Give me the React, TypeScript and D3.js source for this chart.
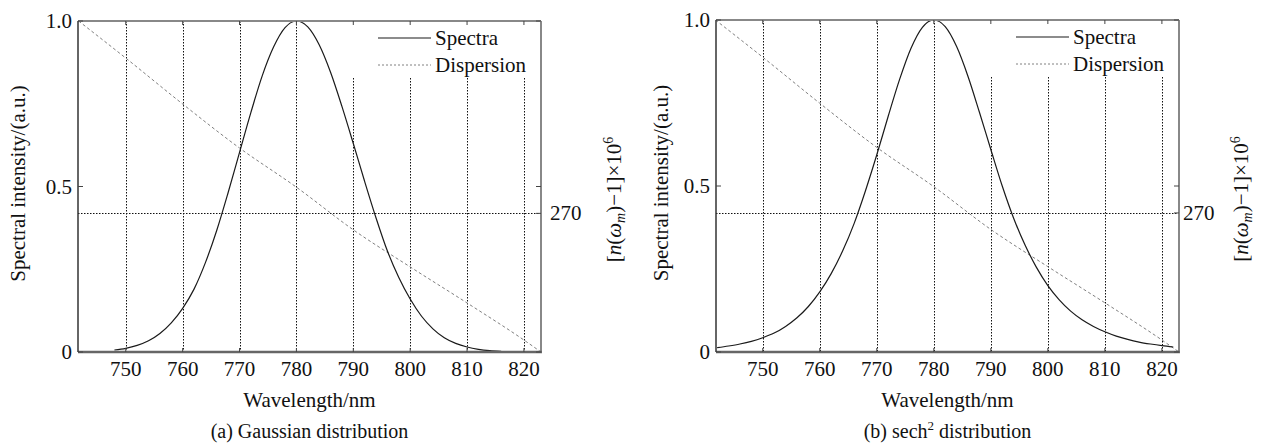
import React from 'react';
import * as d3 from 'd3';

// tick values shared by both panels
const xTicks = [750, 760, 770, 780, 790, 800, 810, 820];
const yTicks = [0, 0.5, 1.0];
const yTickLabels = ['0', '0.5', '1.0'];
const rightTicks = [270];

// (a) Gaussian spectrum
const gaussWavelength = [
  748, 750, 752, 754, 756, 758, 760, 762, 764, 766, 768, 770, 772, 774, 776, 778, 780,
  782, 784, 786, 788, 790, 792, 794, 796, 798, 800, 802, 804, 806, 808, 810, 812, 814, 816,
];
const gaussSpectra = [
  0.006, 0.011, 0.02, 0.034, 0.056, 0.088, 0.132, 0.19, 0.27, 0.368, 0.482, 0.603, 0.724,
  0.835, 0.922, 0.98, 1.0, 0.982, 0.928, 0.845, 0.742, 0.63, 0.515, 0.405, 0.305, 0.225,
  0.16, 0.108, 0.07, 0.043, 0.026, 0.015, 0.008, 0.004, 0.002,
];

// (b) sech^2 spectrum
const sechWavelength = [
  742, 744, 746, 748, 750, 752, 754, 756, 758, 760, 762, 764, 766, 768, 770, 772, 774, 776,
  778, 780, 782, 784, 786, 788, 790, 792, 794, 796, 798, 800, 802, 804, 806, 808, 810, 812,
  814, 816, 818, 820, 822,
];
const sechSpectra = [
  0.013, 0.018, 0.024, 0.032, 0.043, 0.057, 0.077, 0.103, 0.137, 0.181, 0.236, 0.304, 0.386,
  0.485, 0.594, 0.71, 0.821, 0.915, 0.978, 1.0, 0.98, 0.92, 0.83, 0.722, 0.61, 0.5, 0.403,
  0.322, 0.255, 0.2, 0.157, 0.123, 0.097, 0.077, 0.061, 0.048, 0.038, 0.03, 0.024, 0.019,
  0.015,
];

// dispersion [n(w_m)-1]x10^6, right axis
const dispWavelength = [741.7, 750, 760, 770, 780, 790, 800, 810, 820, 823];
const dispersion = [281.1, 278.96, 276.31, 273.77, 271.51, 269.05, 266.91, 264.83, 262.69, 262.0];

const FONT = 'Liberation Serif';

interface PanelProps {
  id: string;
  box: { l: number; t: number; r: number; b: number };
  xDomain: [number, number];
  wavelength: number[];
  spectra: number[];
  caption: React.ReactNode;
  yLabelX: number;
  rightLabelX: number;
  rightTickDx: number;
}

const Panel: React.FC<PanelProps> = ({
  id, box, xDomain, wavelength, spectra, caption, yLabelX, rightLabelX, rightTickDx,
}) => {
  const { l, t, r, b } = box;
  const x = d3.scaleLinear().domain(xDomain).range([l, r]);
  const y = d3.scaleLinear().domain([0, 1]).range([b, t]);
  const yR = d3.scaleLinear().domain([262, 281.1]).range([b, t]);

  const spectraLine = d3
    .line<number>()
    .x((_, i) => x(wavelength[i]))
    .y((d) => y(d))
    .curve(d3.curveMonotoneX);

  const dispLine = d3
    .line<number>()
    .x((_, i) => x(dispWavelength[i]))
    .y((d) => yR(d))
    .curve(d3.curveMonotoneX);

  const legend = { x: r - 195, y: t, w: 195, h: 57 };
  const cx = (l + r) / 2;

  return (
    <g>
      <defs>
        <clipPath id={`clip-${id}`}>
          <rect x={l} y={t} width={r - l} height={b - t} />
        </clipPath>
      </defs>

      {/* grid */}
      {xTicks.map((v) => (
        <line key={v} x1={Math.round(x(v)) + 0.5} x2={Math.round(x(v)) + 0.5} y1={t} y2={b}
          stroke="#111" strokeWidth={1} strokeDasharray="1.5,1.5" />
      ))}
      {rightTicks.map((v) => (
        <line key={v} x1={l} x2={r} y1={Math.round(yR(v)) + 0.5} y2={Math.round(yR(v)) + 0.5}
          stroke="#111" strokeWidth={1} strokeDasharray="1.5,1.5" />
      ))}

      <g clipPath={`url(#clip-${id})`}>
        <path d={dispLine(dispersion) ?? ''} fill="none" stroke="#808080" strokeWidth={1}
          strokeDasharray="3,2.5" />
        <path d={spectraLine(spectra) ?? ''} fill="none" stroke="#1a1a1a" strokeWidth={1.2} />
      </g>

      {/* legend */}
      <rect x={legend.x} y={legend.y} width={legend.w} height={legend.h} fill="#fff" />
      <line x1={r - 163} x2={r - 110} y1={t + 17} y2={t + 17} stroke="#1a1a1a" strokeWidth={1.2} />
      <line x1={r - 163} x2={r - 110} y1={t + 44} y2={t + 44} stroke="#808080" strokeWidth={1}
        strokeDasharray="2,2" />
      <text x={r - 106} y={t + 24} fontSize={21}>Spectra</text>
      <text x={r - 106} y={t + 51} fontSize={21}>Dispersion</text>

      {/* frame */}
      <line x1={l} x2={r} y1={t} y2={t} stroke="#888" strokeWidth={2} />
      <line x1={r} x2={r} y1={t} y2={b} stroke="#888" strokeWidth={2} />
      <line x1={l} x2={r + 1} y1={b} y2={b} stroke="#666" strokeWidth={2.5} />
      <line x1={l} x2={l} y1={t} y2={b} stroke="#333" strokeWidth={1.5} />

      {/* ticks */}
      {xTicks.map((v) => (
        <g key={v}>
          <line x1={x(v)} x2={x(v)} y1={t} y2={t + 4} stroke="#444" strokeWidth={1} />
          <line x1={x(v)} x2={x(v)} y1={b} y2={b - 4} stroke="#444" strokeWidth={1} />
          <text x={x(v)} y={b + 24} textAnchor="middle" fontSize={21}>
            {v}
          </text>
        </g>
      ))}
      {yTicks.map((v, i) => (
        <g key={v}>
          <line x1={l} x2={l + 5} y1={y(v)} y2={y(v)} stroke="#444" strokeWidth={1} />
          <line x1={r} x2={r - 5} y1={y(v)} y2={y(v)} stroke="#444" strokeWidth={1} />
          <text x={l - 6} y={y(v) + 7} textAnchor="end" fontSize={21}>
            {yTickLabels[i]}
          </text>
        </g>
      ))}
      {rightTicks.map((v) => (
        <g key={v}>
          <line x1={r} x2={r - 5} y1={yR(v)} y2={yR(v)} stroke="#444" strokeWidth={1} />
          <text x={r + rightTickDx} y={yR(v) + 7} fontSize={21}>
            {v}
          </text>
        </g>
      ))}

      {/* axis labels */}
      <text transform={`translate(${yLabelX},${(t + b) / 2 - 3}) rotate(-90)`} textAnchor="middle"
        fontSize={21}>
        Spectral intensity/(a.u.)
      </text>
      <text transform={`translate(${rightLabelX},${(t + b) / 2 + 13}) rotate(-90)`} textAnchor="middle"
        fontSize={21}>
        [<tspan fontStyle="italic">n</tspan>(<tspan fontStyle="italic">ω</tspan>
        <tspan fontStyle="italic" fontSize={14} dy={4}>m</tspan>
        <tspan dy={-4}>)−1]×10</tspan>
        <tspan fontSize={14} dy={-8}>6</tspan>
      </text>
      <text x={cx} y={b + 55} textAnchor="middle" fontSize={21}>
        Wavelength/nm
      </text>
      <text x={cx} y={438} textAnchor="middle" fontSize={20}>
        {caption}
      </text>
    </g>
  );
};

const App: React.FC = () => {
  return (
    <svg
      width={1268}
      height={444}
      fontFamily={FONT}
      fill="#111"
      style={{ position: 'absolute', left: 0, top: 0, background: '#fff', fontFamily: FONT }}
    >
      <Panel
        id="a"
        box={{ l: 78, t: 21, r: 541, b: 352 }}
        xDomain={[741.6, 823]}
        wavelength={gaussWavelength}
        spectra={gaussSpectra}
        caption="(a) Gaussian distribution"
        yLabelX={25}
        rightLabelX={621}
        rightTickDx={9}
      />
      <Panel
        id="b"
        box={{ l: 716, t: 20, r: 1179, b: 352 }}
        xDomain={[741.8, 823]}
        wavelength={sechWavelength}
        spectra={sechSpectra}
        caption={
          <>
            (b) sech<tspan fontSize={13} dy={-8}>2</tspan>
            <tspan dy={8}> distribution</tspan>
          </>
        }
        yLabelX={668}
        rightLabelX={1248}
        rightTickDx={4}
      />
    </svg>
  );
};

export default App;
